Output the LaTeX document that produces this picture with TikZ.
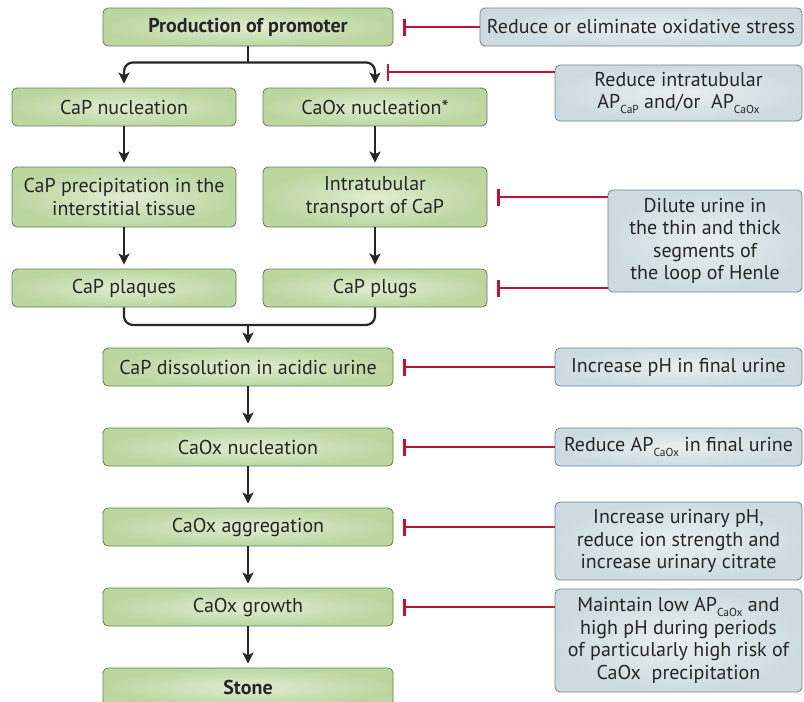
\documentclass[tikz,border=0pt]{standalone}
\usepackage{fontspec}
\setmainfont{PT Sans}
\usetikzlibrary{arrows.meta}

\definecolor{greenin}{RGB}{224,236,210}
\definecolor{greenout}{RGB}{188,214,160}
\definecolor{boxline}{RGB}{105,120,95}
\definecolor{bluein}{RGB}{232,239,242}
\definecolor{blueout}{RGB}{205,219,225}
\definecolor{fixline}{RGB}{115,130,138}
\definecolor{inhibred}{RGB}{193,18,50}
\newcommand{\apsub}[1]{\raisebox{-0.5ex}{\fontsize{11.5}{11.5}\selectfont #1}}

\begin{document}
\begin{tikzpicture}[x=1pt,y=-1pt,
  every node/.style={font=\fontsize{20}{22.5}\selectfont, text=black!85},
  stepbox/.style={draw=boxline, line width=0.8pt, rounded corners=5pt,
    inner color=greenin, outer color=greenout, align=center, inner sep=0pt,
    minimum height=38pt},
  wide/.style={stepbox, minimum width=290pt},
  half/.style={stepbox, minimum width=224pt},
  fixbox/.style={draw=fixline, line width=0.8pt, rounded corners=5pt,
    inner color=bluein, outer color=blueout, align=center, inner sep=0pt,
    minimum width=247pt},
  flow/.style={draw=black!85, line width=2.2pt,
    -{Stealth[length=11pt,width=11pt,inset=2.5pt]}, shorten >=4pt},
  mergeline/.style={draw=black!85, line width=2.2pt, rounded corners=9pt},
  inhib/.style={draw=inhibred, line width=2pt,
    -{Bar[width=17pt,line width=2.4pt]}, shorten >=10pt},
]
\useasboundingbox (0,0) rectangle (804,702);

\node[wide, font=\fontsize{20}{22.5}\selectfont\bfseries] (prom) at (248,27) {Production of promoter};
\node[half] (capnuc) at (124,107) {CaP nucleation};
\node[half] (caoxnuc) at (375,107) {CaOx nucleation*};
\node[half, minimum height=60pt] (precip) at (124,197) {CaP precipitation in the\\interstitial tissue};
\node[half, minimum height=60pt] (transp) at (375,197) {Intratubular\\transport of CaP};
\node[half] (plaq) at (124,288) {CaP plaques};
\node[half] (plug) at (375,288) {CaP plugs};
\node[wide] (dissol) at (248,367) {CaP dissolution in acidic urine};
\node[wide] (nucl) at (248,447) {CaOx nucleation};
\node[wide] (aggr) at (248,527) {CaOx aggregation};
\node[wide] (grow) at (248,607) {CaOx growth};
\node[wide, font=\fontsize{20}{22.5}\selectfont\bfseries] (stone) at (248,687) {Stone};

\node[fixbox, minimum width=322pt, minimum height=38pt] (ox) at (641,27) {Reduce or eliminate oxidative stress};
\node[fixbox, minimum height=56pt] (aptub) at (678.5,93) {Reduce intratubular\\AP\apsub{CaP} and/or~ AP\apsub{CaOx}};
\node[fixbox, minimum width=194pt, minimum height=102pt] (dil) at (705,241) {Dilute urine in\\the thin and thick\\segments of\\the loop of Henle};
\node[fixbox, minimum height=38pt] (ph) at (678.5,367) {Increase pH in final urine};
\node[fixbox, minimum height=38pt] (apfin) at (678.5,447) {Reduce AP\apsub{CaOx} in final urine};
\node[fixbox, minimum height=78pt] (ion) at (678.5,541) {Increase urinary pH,\\reduce ion strength and\\increase urinary citrate};
\node[fixbox, minimum height=103pt] (risk) at (678.5,640.5) {Maintain low AP\apsub{CaOx} and\\high pH during periods\\of particularly high risk of\\CaOx~ precipitation};

\draw[mergeline] (prom.south) -- ++(0,16) coordinate (fork);
\draw[flow, rounded corners=9pt] (fork) -| (capnuc.north);
\draw[flow, rounded corners=9pt] (fork) -| (caoxnuc.north);
\draw[flow] (capnuc) -- (precip);
\draw[flow] (caoxnuc) -- (transp);
\draw[flow] (precip) -- (plaq);
\draw[flow] (transp) -- (plug);
\coordinate (merge) at (dissol.north |- 0,325);
\draw[mergeline] (plaq.south) |- (merge) -| (plug.south);
\draw[flow] (merge) -- (dissol.north);
\draw[flow] (dissol) -- (nucl);
\draw[flow] (nucl) -- (aggr);
\draw[flow] (aggr) -- (grow);
\draw[flow] (grow) -- (stone);

\coordinate (split) at (377,72);
\draw[inhib] (ox.west) -- (prom.east);
\draw[inhib] (aptub.west |- split) -- (split);
\draw[inhib] (dil.west |- transp.east) -- (transp.east);
\draw[inhib] (dil.west |- plug.east) -- (plug.east);
\draw[inhib] (ph.west) -- (dissol.east);
\draw[inhib] (apfin.west) -- (nucl.east);
\draw[inhib] (ion.west |- aggr.east) -- (aggr.east);
\draw[inhib] (risk.west |- grow.east) -- (grow.east);

\end{tikzpicture}
\end{document}
